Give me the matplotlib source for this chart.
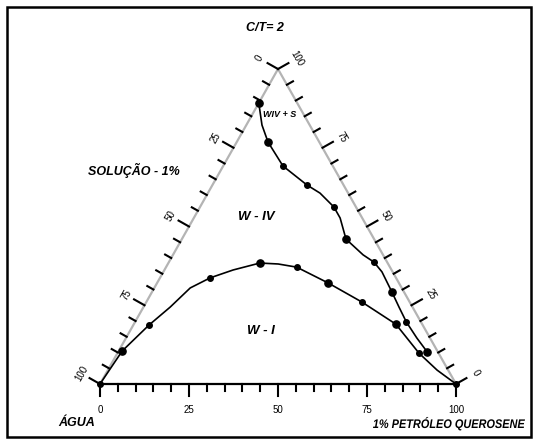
import numpy as np
import matplotlib
matplotlib.use("Agg")
import matplotlib.pyplot as plt
from matplotlib import font_manager
from matplotlib.patches import Rectangle, PathPatch
from matplotlib.textpath import TextPath
from matplotlib.font_manager import FontProperties
from matplotlib.transforms import Affine2D

# ---------------- data (ternary: % petróleo, % solução; água = resto) ----------
sup_petroleo = [0, 4.4, 8.8, 16.8, 26.5, 31.5, 37.6, 41.1, 46.1, 53.4, 57.6, 61.4, 67.4, 71.8, 76.2, 81.7, 86.8]
sup_solucao = [89.2, 82.2, 76.8, 69.2, 63.2, 60.6, 56.2, 52.7, 46.0, 41.0, 38.7, 35.6, 29.2, 24.4, 19.7, 14.6, 10.2]

inf_petroleo = [0, 1.0, 4.4, 7.5, 10.1, 14.1, 19.3, 25.7, 31.0, 36.7, 48.0, 60.6, 73.6, 84.7, 92.5, 100]
inf_solucao = [0, 10.5, 18.7, 24.4, 30.5, 33.7, 36.2, 38.4, 38.1, 37.1, 32.1, 26.0, 19.0, 9.8, 4.4, 0]

pts_grandes_petroleo = [0, 8.8, 46.1, 67.4, 86.8, 1.0, 25.7, 48.0, 73.6]
pts_grandes_solucao = [89.2, 76.8, 46.0, 29.2, 10.2, 10.5, 38.4, 32.1, 19.0]
pts_pequenos_petroleo = [16.8, 26.5, 37.6, 57.6, 76.2, 4.4, 14.1, 36.7, 60.6, 84.7, 0, 100]
pts_pequenos_solucao = [69.2, 63.2, 56.2, 38.7, 19.7, 18.7, 33.7, 37.1, 26.0, 9.8, 0, 0]

tick_labels = ["0", "25", "50", "75", "100"]
tick_values = [0, 25, 50, 75, 100]

W, H = 540, 441
fig = plt.figure(figsize=(W / 100, H / 100), dpi=100)
ax = fig.add_axes([100 / W, (H - 384) / H, 356 / W, 315 / H])
ax.set_xlim(0, 100)
ax.set_ylim(0, 100)
ax.axis("off")

names = {f.name for f in font_manager.fontManager.ttflist}
FONT = "Liberation Sans" if "Liberation Sans" in names else "DejaVu Sans"


def cart(p, s):
    p = np.asarray(p, float)
    s = np.asarray(s, float)
    return p + s / 2.0, s


def offset(x, y, dx, dy):
    """shift data point by pixel offset (dx, dy) (y up)"""
    X, Y = ax.transData.transform((x, y))
    return ax.transData.inverted().transform((X + dx, Y + dy))


# triangle edges
gray = "#b4b4b4"
ax.plot([0, 50], [0, 100], color=gray, lw=1.6, clip_on=False, zorder=1)
ax.plot([100, 50], [0, 100], color=gray, lw=1.6, clip_on=False, zorder=1)
ax.plot([0, 100], [0, 0], color="black", lw=1.6, clip_on=False, zorder=2)

# outward normals in pixel space
vL = np.array(ax.transData.transform((50, 100))) - np.array(ax.transData.transform((0, 0)))
vL = vL / np.hypot(*vL)
nL = np.array([-vL[1], vL[0]])
vR = np.array(ax.transData.transform((50, 100))) - np.array(ax.transData.transform((100, 0)))
vR = vR / np.hypot(*vR)
nR = np.array([vR[1], -vR[0]])
nB = np.array([0.0, -1.0])

MAJ, MIN = 12, 7
for v in range(0, 101, 5):
    L = MAJ if v % 25 == 0 else MIN
    x0, y0 = cart(v, 0)
    x1, y1 = offset(x0, y0, *(nB * L))
    ax.plot([x0, x1], [y0, y1], color="black", lw=1.5, clip_on=False, zorder=3)
    x0, y0 = cart(0, 100 - v)
    x1, y1 = offset(x0, y0, *(nL * L))
    ax.plot([x0, x1], [y0, y1], color="black", lw=1.5, clip_on=False, zorder=3)
    x0, y0 = cart(100 - v, v)
    x1, y1 = offset(x0, y0, *(nR * L))
    ax.plot([x0, x1], [y0, y1], color="black", lw=1.5, clip_on=False, zorder=3)

for lab, v in zip(tick_labels, tick_values):
    x0, y0 = cart(v, 0)
    x1, y1 = offset(x0, y0, 0, -26)
    ax.text(x1, y1, lab, ha="center", va="center", fontsize=7, family=FONT)
    x0, y0 = cart(0, 100 - v)
    x1, y1 = offset(x0, y0, *(nL * 21))
    ax.text(x1, y1, lab, ha="center", va="center", fontsize=7, family=FONT,
            rotation=60, rotation_mode="anchor")
    x0, y0 = cart(100 - v, v)
    x1, y1 = offset(x0, y0, *(nR * 22))
    ax.text(x1, y1, lab, ha="center", va="center", fontsize=7, family=FONT,
            rotation=-60, rotation_mode="anchor")

# boundary curves
xs, ys = cart(sup_petroleo, sup_solucao)
ax.plot(xs, ys, color="black", lw=1.2, clip_on=False, zorder=4)
xi, yi = cart(inf_petroleo, inf_solucao)
ax.plot(xi, yi, color="black", lw=1.2, clip_on=False, zorder=4)

xg, yg = cart(pts_grandes_petroleo, pts_grandes_solucao)
ax.plot(xg, yg, "o", color="black", ms=5.2, clip_on=False, zorder=5)
xp, yp = cart(pts_pequenos_petroleo, pts_pequenos_solucao)
ax.plot(xp, yp, "o", color="black", ms=4, clip_on=False, zorder=5)


def ftext(px, py, s, size, **kw):
    fig.text(px / W, 1 - py / H, s, fontsize=size, fontweight="bold", fontstyle="italic",
             ha="center", va="center", **kw)


ftext(265, 28, "C/T= 2", 9, family=FONT)
ftext(134, 170, "SOLUÇÃO - 1%", 9, family=FONT)
ftext(280, 114, "WIV + S", 6.5, family=FONT)
ftext(256, 217, "W - IV", 9.5, family=FONT)
ftext(261, 331, "W - I", 9.5, family=FONT)
ftext(77, 423, "ÁGUA", 9, family=FONT)

# condensed axis title (horizontally squeezed text)
fp = FontProperties(family=FONT, weight="bold", style="italic", size=9)
tp = TextPath((0, 0), "1% PETRÓLEO QUEROSENE", prop=fp)
ext = tp.get_extents()
px_per_pt = 100 / 72
target_w = 152.0
sx = target_w / (ext.width * px_per_pt)
tr = Affine2D().translate(-ext.x0, 0).scale(sx * px_per_pt, px_per_pt).translate(373, H - 428)
fig.add_artist(PathPatch(tp, transform=tr, facecolor="black", edgecolor="none"))

fig.add_artist(Rectangle((7 / W, 1 - 437 / H), 524 / W, 430 / H, transform=fig.transFigure,
                         fill=False, edgecolor="black", lw=1.8))

fig.savefig("out.png", dpi=100)
